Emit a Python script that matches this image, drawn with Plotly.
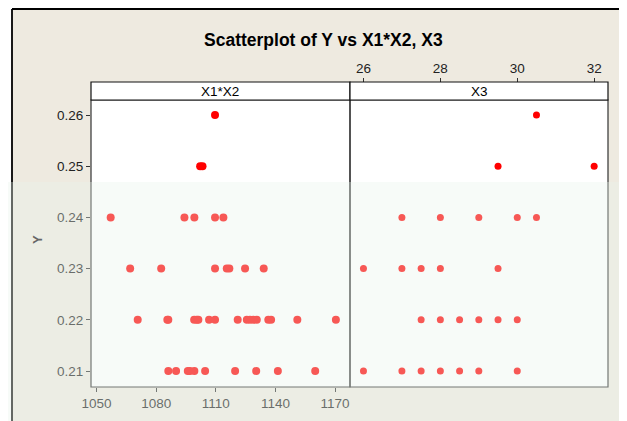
import plotly.graph_objects as go

# ---- data ----
y_ticks = [0.21, 0.22, 0.23, 0.24, 0.25, 0.26]
x1x2_ticks = [1050, 1080, 1110, 1140, 1170]
x3_ticks = [26, 28, 30, 32]

x1x2_vals = [
    1109.6,
    1102.1, 1103.3,
    1057.1, 1094.2, 1099.2, 1109.6, 1113.8,
    1066.9, 1082.5, 1109.6, 1115.5, 1116.8, 1124.7, 1134.1,
    1070.7, 1085.6, 1086.1, 1099.1, 1100.4, 1101.2, 1106.6, 1109.6, 1121.0,
    1125.6, 1127.2, 1128.9, 1130.6, 1136.4, 1137.8, 1151.0, 1170.4,
    1086.1, 1090.0, 1095.9, 1097.0, 1099.2, 1104.6, 1119.7, 1130.3, 1141.2, 1160.0,
]
y_left = [
    0.26,
    0.25, 0.25,
    0.24, 0.24, 0.24, 0.24, 0.24,
    0.23, 0.23, 0.23, 0.23, 0.23, 0.23, 0.23,
    0.22, 0.22, 0.22, 0.22, 0.22, 0.22, 0.22, 0.22, 0.22,
    0.22, 0.22, 0.22, 0.22, 0.22, 0.22, 0.22, 0.22,
    0.21, 0.21, 0.21, 0.21, 0.21, 0.21, 0.21, 0.21, 0.21, 0.21,
]

x3_vals = [
    30.5,
    29.5, 32,
    27, 28, 29, 30, 30.5,
    26, 27, 27.5, 28, 29.5,
    27.5, 28, 28.5, 29, 29.5, 30,
    26, 27, 27.5, 28, 28.5, 29, 30,
]
y_right = [
    0.26,
    0.25, 0.25,
    0.24, 0.24, 0.24, 0.24, 0.24,
    0.23, 0.23, 0.23, 0.23, 0.23,
    0.22, 0.22, 0.22, 0.22, 0.22, 0.22,
    0.21, 0.21, 0.21, 0.21, 0.21, 0.21, 0.21,
]

title = "Scatterplot of Y vs X1*X2, X3"
panel_labels = ["X1*X2", "X3"]

# ---- layout geometry (paper coords; page body has an 8px margin) ----
W, H = 627, 421
OFF = 8
def px(x):
    return (x - OFF) / W
def py(y):
    return (H - (y - OFF)) / H

xL0, xM, xR1 = px(91), px(350), px(608)
yB, yT = py(387), py(100)
yS = py(82)

FONT = "Liberation Sans, Arial, sans-serif"

fig = go.Figure()
fig.add_trace(go.Scatter(x=x1x2_vals, y=y_left, mode="markers",
                         marker=dict(color="#ff0000", size=8),
                         xaxis="x", yaxis="y", showlegend=False, hoverinfo="x+y"))
fig.add_trace(go.Scatter(x=x3_vals, y=y_right, mode="markers",
                         marker=dict(color="#ff0000", size=7),
                         xaxis="x2", yaxis="y2", showlegend=False, hoverinfo="x+y"))

axis_common = dict(showgrid=False, zeroline=False, showline=False, automargin=False,
                   ticks="outside", ticklen=4, tickcolor="#333",
                   tickfont=dict(family=FONT, size=13.5, color="#222"))

def ann(text, x, y, size=13, color="#000", **kw):
    return dict(text=text, xref="paper", yref="paper", x=x, y=y, showarrow=False,
                xanchor="center", yanchor="middle",
                font=dict(family=FONT, size=size, color=color), **kw)

fig.update_layout(
    width=W, height=H,
    margin=dict(l=0, r=0, t=0, b=0, pad=0),
    paper_bgcolor="#eeeae0",
    plot_bgcolor="#ffffff",
    xaxis=dict(domain=[xL0, xM], range=[1047.2, 1177.5], tickvals=x1x2_ticks,
               anchor="y", side="bottom", **axis_common),
    yaxis=dict(domain=[yB, yT], range=[0.20688, 0.26293], tickvals=y_ticks,
               tickformat=".2f", anchor="x", **axis_common),
    xaxis2=dict(domain=[xM, xR1], range=[25.65, 32.36], tickvals=x3_ticks,
                anchor="free", position=yS, side="top", **axis_common),
    yaxis2=dict(domain=[yB, yT], range=[0.20688, 0.26293], matches="y",
                anchor="x2", showticklabels=False, showgrid=False, automargin=False,
                zeroline=False, showline=False, ticks=""),
    shapes=[
        # white strip left of the outer frame
        dict(type="rect", xref="paper", yref="paper", x0=0, x1=px(12), y0=0, y1=1,
             fillcolor="#ffffff", line=dict(width=0), layer="below"),
        # panel borders
        dict(type="rect", xref="paper", yref="paper", x0=xL0, x1=xM, y0=yB, y1=yT,
             line=dict(color="#333", width=1.2), layer="above"),
        dict(type="rect", xref="paper", yref="paper", x0=xM, x1=xR1, y0=yB, y1=yT,
             line=dict(color="#333", width=1.2), layer="above"),
        # strips
        dict(type="rect", xref="paper", yref="paper", x0=xL0, x1=xM, y0=yT, y1=yS,
             fillcolor="#ffffff", line=dict(color="#111", width=1.2), layer="above"),
        dict(type="rect", xref="paper", yref="paper", x0=xM, x1=xR1, y0=yT, y1=yS,
             fillcolor="#ffffff", line=dict(color="#111", width=1.2), layer="above"),
        # outer frame
        dict(type="line", xref="paper", yref="paper", x0=px(12), x1=1, y0=py(9), y1=py(9),
             line=dict(color="#000", width=1.8)),
        dict(type="line", xref="paper", yref="paper", x0=px(12), x1=px(12), y0=0, y1=py(9),
             line=dict(color="#000", width=1.8)),
        # watermark haze over the lower part
        dict(type="rect", xref="paper", yref="paper", x0=0, x1=1, y0=0, y1=py(182),
             fillcolor="rgba(232,244,236,0.36)", line=dict(width=0), layer="above"),
    ],
    annotations=[
        ann("<b>" + title + "</b>", px(323), py(40), size=17.5),
        ann(panel_labels[0], (xL0 + xM) / 2, (yT + yS) / 2, size=13.5),
        ann(panel_labels[1], (xM + xR1) / 2, (yT + yS) / 2, size=13.5),
        ann("<b>Y</b>", px(37), py(240), color="#666", textangle=-90),
    ],
)

fig.write_html("out.html")
